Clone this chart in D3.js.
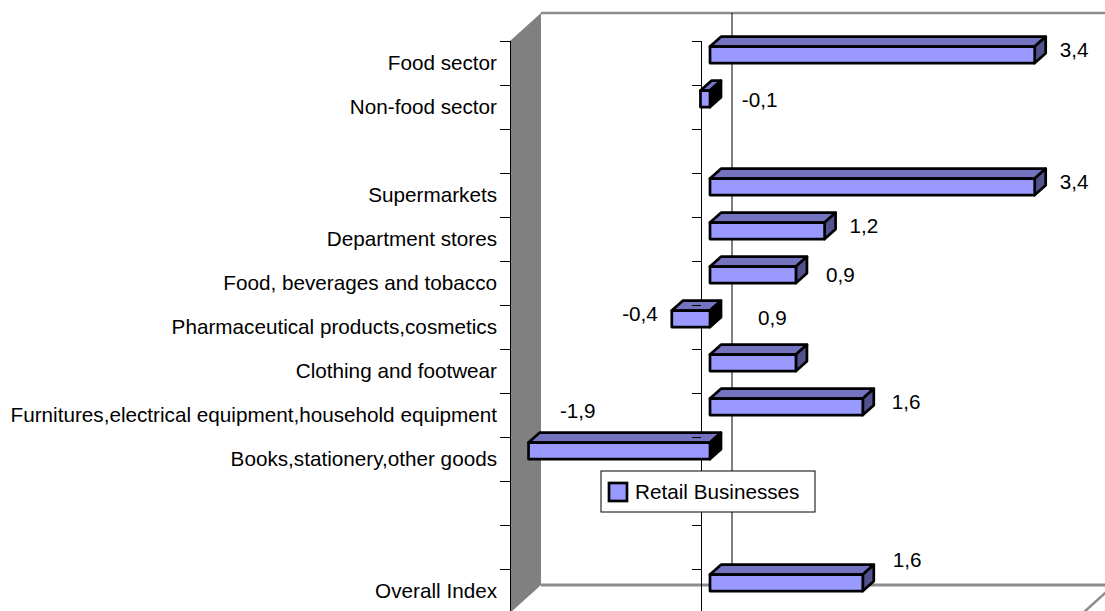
<!DOCTYPE html>
<html>
<head>
<meta charset="utf-8">
<script src="https://cdn.jsdelivr.net/npm/d3@7"></script>
<style>
  body { margin: 0; background: #fff; }
  svg text { font-family: "Liberation Sans", Arial, sans-serif; fill: #000; }
</style>
</head>
<body>
<div id="chart"></div>
<script>
// categories top to bottom, blank rows are gaps in the original sheet
var categories = [
  "Food sector",
  "Non-food sector",
  "",
  "Supermarkets",
  "Department stores",
  "Food, beverages and tobacco",
  "Pharmaceutical products,cosmetics",
  "Clothing and footwear",
  "Furnitures,electrical equipment,household equipment",
  "Books,stationery,other goods",
  "",
  "",
  "Overall Index"
];
var values = [3.4, -0.1, null, 3.4, 1.2, 0.9, -0.4, 0.9, 1.6, -1.9, null, null, 1.6];
var seriesName = "Retail Businesses";
var valueDomain = [-2, 4];

var width = 1105, height = 611;
var fontSize = "20.7px";

var svg = d3.select("#chart").append("svg")
  .attr("width", width)
  .attr("height", height);

// front plane scales
var x = d3.scaleLinear().domain(valueDomain).range([510, 1083]);
var y = d3.scaleBand().domain(d3.range(categories.length)).range([41, 613]);

// 3d depth: total depth of the box and slope
var depthX = 31, depthY = 28;
function P(px, py, d) {
  return [px + d, py - d * depthY / depthX];
}
function poly(pts) {
  return "M" + pts.map(function (p) { return p[0] + "," + p[1]; }).join("L") + "Z";
}

var x0 = x.range()[0], x1 = x.range()[1];
var yTop = y.range()[0], yBot = y.range()[1];

// left wall
svg.append("path")
  .attr("d", poly([P(x0, yTop, 0), P(x0, yTop, depthX), P(x0, yBot, depthX), P(x0, yBot, 0)]))
  .attr("fill", "#808080");

// back wall top edge + floor edges
var grey = "#8c8c8c";
svg.append("line")
  .attr("x1", P(x0, yTop, depthX)[0]).attr("y1", P(x0, yTop, depthX)[1])
  .attr("x2", P(x1, yTop, depthX)[0]).attr("y2", P(x1, yTop, depthX)[1])
  .attr("stroke", grey).attr("stroke-width", 2.5);
svg.append("line")
  .attr("x1", P(x0, yBot, depthX)[0]).attr("y1", P(x0, yBot, depthX)[1])
  .attr("x2", P(x1, yBot, depthX)[0]).attr("y2", P(x1, yBot, depthX)[1])
  .attr("stroke", grey).attr("stroke-width", 3);
svg.append("line")
  .attr("x1", P(x1, yBot, 0)[0]).attr("y1", P(x1, yBot, 0)[1])
  .attr("x2", P(x1, yBot, depthX)[0]).attr("y2", P(x1, yBot, depthX)[1])
  .attr("stroke", grey).attr("stroke-width", 2.5);

// zero line on the back wall
svg.append("line")
  .attr("x1", P(x(0), yTop, depthX)[0]).attr("y1", P(x(0), yTop, depthX)[1])
  .attr("x2", P(x(0), yBot, depthX)[0]).attr("y2", P(x(0), yBot, depthX)[1])
  .attr("stroke", "#000").attr("stroke-width", 1);

// left axis line and zero axis line on the front plane
svg.append("line")
  .attr("x1", x0 + 0.5).attr("y1", yTop).attr("x2", x0 + 0.5).attr("y2", yBot)
  .attr("stroke", "#000").attr("stroke-width", 1);
svg.append("line")
  .attr("x1", x(0) + 0.5).attr("y1", yTop).attr("x2", x(0) + 0.5).attr("y2", yBot)
  .attr("stroke", "#000").attr("stroke-width", 1);

var tickYs = d3.range(categories.length + 1).map(function (i) {
  return yTop + i * y.step();
});

svg.selectAll(".tickL").data(tickYs).enter().append("line")
  .attr("x1", x0 - 10).attr("x2", x0)
  .attr("y1", function (d) { return d + 0.5; })
  .attr("y2", function (d) { return d + 0.5; })
  .attr("stroke", "#000");

// category labels
svg.selectAll(".cat").data(categories).enter().append("text")
  .attr("x", 497)
  .attr("y", function (d, i) { return y(i) + y.bandwidth() / 2; })
  .attr("dy", "0.35em")
  .attr("text-anchor", "end")
  .style("font-size", fontSize)
  .text(function (d) { return d; });

// bars
var d1 = 9, d2 = 20, barH = 16.5;
var frontFill = "#9999ff", topFill = "#7373c0", sideFill = "#52528c";

var barData = values.map(function (v, i) { return { v: v, i: i }; })
  .filter(function (d) { return d.v !== null; });

var bars = svg.selectAll(".bar").data(barData).enter().append("g");

function barBox(d) {
  var xa = x(Math.min(0, d.v)), xb = x(Math.max(0, d.v));
  var cy = y(d.i) + y.bandwidth() / 2;
  return { xa: xa, xb: xb, yt: cy - barH / 2, yb: cy + barH / 2 };
}

bars.each(function (d) {
  var b = barBox(d);
  var g = d3.select(this);
  var common = function (sel) {
    return sel.attr("stroke", "#000").attr("stroke-width", 2.7).attr("stroke-linejoin", "round");
  };
  common(g.append("path")
    .attr("d", poly([P(b.xa, b.yt, d1), P(b.xb, b.yt, d1), P(b.xb, b.yt, d2), P(b.xa, b.yt, d2)]))
    .attr("fill", topFill));
  common(g.append("path")
    .attr("d", poly([P(b.xb, b.yt, d1), P(b.xb, b.yt, d2), P(b.xb, b.yb, d2), P(b.xb, b.yb, d1)]))
    .attr("fill", d.v < 0 ? "#000" : sideFill));
  common(g.append("path")
    .attr("d", poly([P(b.xa, b.yt, d1), P(b.xb, b.yt, d1), P(b.xb, b.yb, d1), P(b.xa, b.yb, d1)]))
    .attr("fill", frontFill));
});

// ticks on the zero axis sit over the bars
svg.selectAll(".tickZ").data(tickYs).enter().append("line")
  .attr("x1", x(0) - 9).attr("x2", x(0))
  .attr("y1", function (d) { return d + 0.5; })
  .attr("y2", function (d) { return d + 0.5; })
  .attr("stroke", "#000");

// value labels; a few were dragged by hand in the source chart
var labelNudge = {
  "Non-food sector": [91, 6],
  "Food, beverages and tobacco": [5, 5],
  "Clothing and footwear": [-63, -40],
  "Furnitures,electrical equipment,household equipment": [4, 0],
  "Books,stationery,other goods": [81, -35],
  "Overall Index": [5, -18]
};
var fmt = function (v) { return d3.format(".1f")(v).replace("\u2212", "-").replace(".", ","); };

svg.selectAll(".val").data(barData).enter().append("text")
  .each(function (d) {
    var b = barBox(d);
    var n = labelNudge[categories[d.i]] || [0, 0];
    var t = d3.select(this);
    if (d.v >= 0) {
      t.attr("x", P(b.xb, 0, d2)[0] + 14 + n[0]).attr("text-anchor", "start");
    } else {
      t.attr("x", P(b.xa, 0, d1)[0] - 14 + n[0]).attr("text-anchor", "end");
    }
    t.attr("y", P(0, b.yt, d1)[1] + 3 + n[1]);
  })
  .attr("dy", "0.35em")
  .style("font-size", fontSize)
  .text(function (d) { return fmt(d.v); });

// legend
var legend = svg.append("g").attr("transform", "translate(601,471)");
legend.append("rect")
  .attr("width", 214).attr("height", 41)
  .attr("fill", "#fff").attr("stroke", "#000").attr("stroke-width", 1);
legend.append("rect")
  .attr("x", 8).attr("y", 12).attr("width", 18).attr("height", 18)
  .attr("fill", frontFill).attr("stroke", "#000").attr("stroke-width", 2.7);
legend.append("text")
  .attr("x", 34).attr("y", 21).attr("dy", "0.35em")
  .style("font-size", fontSize)
  .text(seriesName);
</script>
</body>
</html>
